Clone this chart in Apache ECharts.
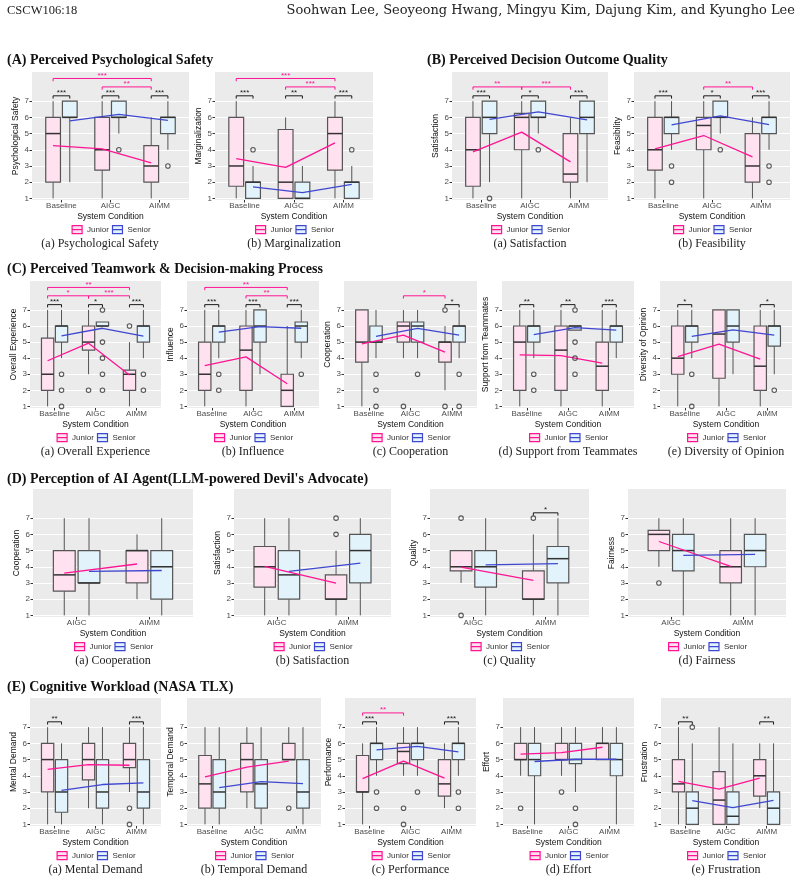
<!DOCTYPE html>
<html>
<head>
<meta charset="utf-8">
<script src="https://cdn.jsdelivr.net/npm/echarts@6/dist/echarts.min.js"></script>
<style>
  html, body { margin: 0; padding: 0; background: #fff; }
  #chart { width: 801px; height: 883px; }
</style>
</head>
<body>
<div id="chart"></div>
<script>
const conditions3 = ['Baseline', 'AIGC', 'AIMM'];
const conditions2 = ['AIGC', 'AIMM'];
const groups = ['Junior', 'Senior'];

// box rows per condition: [lower whisker, Q1, median, Q3, upper whisker]
// means: [junior means, senior means]
// outliers: [condition, group (0 junior / 1 senior), value]
// sig: [condition a, condition b, level, label]  (a == b -> junior vs senior)

// (A)(a) Psychological Safety
const psySafetyJunior = [[1, 2, 5, 6, 7], [1, 2.75, 4, 6, 7], [1, 2, 3, 4.25, 6]];
const psySafetySenior = [[2, 6, 6, 7, 7], [5, 6, 6, 7, 7], [4, 5, 6, 6, 7]];
const psySafetyMeans = [[4.25, 4.06, 3.19], [5.78, 6.18, 5.81]];
const psySafetyOutliers = [[1, 1, 4], [2, 1, 3]];
const psySafetySig = [[0, 0, 0, '***'], [1, 1, 0, '***'], [2, 2, 0, '***'], [1, 2, 1, '**'], [0, 2, 2, '***']];

// (A)(b) Marginalization
const marginJunior = [[1, 1.75, 3, 6, 7], [1, 1, 2, 5.25, 6], [1, 2.75, 5, 6, 7]];
const marginSenior = [[1, 1, 2, 2, 3], [1, 1, 1, 2, 3], [1, 1, 2, 2, 3]];
const marginMeans = [[3.46, 2.91, 4.43], [1.71, 1.36, 1.86]];
const marginOutliers = [[0, 1, 4], [2, 1, 4]];
const marginSig = [[0, 0, 0, '***'], [1, 1, 0, '**'], [2, 2, 0, '***'], [1, 2, 1, '***'], [0, 2, 2, '***']];

// (B)(a) Satisfaction
const satisJunior = [[1, 1.75, 4, 6, 7], [1, 4, 6, 6.25, 7], [1, 2, 2.5, 5, 6]];
const satisSenior = [[2, 5, 6, 7, 7], [5, 6, 6, 7, 7], [2, 5, 6, 7, 7]];
const satisMeans = [[3.87, 5.09, 3.25], [5.87, 6.34, 5.84]];
const satisOutliers = [[0, 1, 1], [1, 1, 4]];
const satisSig = [[0, 0, 0, '***'], [1, 1, 0, '*'], [2, 2, 0, '***'], [0, 1, 1, '**'], [1, 2, 1, '***']];

// (B)(b) Feasibility
const feasJunior = [[1, 2.75, 4, 6, 7], [1, 4, 5.5, 6, 7], [1, 2, 3, 5, 6]];
const feasSenior = [[4, 5, 6, 6, 7], [5, 6, 6, 7, 7], [4, 5, 6, 6, 7]];
const feasMeans = [[4.06, 4.88, 3.56], [5.54, 6.09, 5.55]];
const feasOutliers = [[0, 1, 3], [0, 1, 2], [1, 1, 4], [2, 1, 3], [2, 1, 2]];
const feasSig = [[0, 0, 0, '***'], [1, 1, 0, '*'], [2, 2, 0, '***'], [1, 2, 1, '**']];

// (C)(a) Overall Experience
const overallJunior = [[1, 2, 3, 5.25, 7], [3, 4.5, 5, 6, 7], [1, 2, 3, 3.25, 5]];
const overallSenior = [[4, 5, 6, 6, 7], [6, 6, 6, 6.25, 6.25], [4, 5, 6, 6, 7]];
const overallMeans = [[3.84, 4.93, 2.95], [5.39, 5.86, 5.37]];
const overallOutliers = [[0, 1, 3], [0, 1, 2], [0, 1, 1], [1, 0, 2], [1, 1, 7], [1, 1, 5], [1, 1, 4], [1, 1, 3], [1, 1, 2], [2, 0, 6], [2, 1, 3], [2, 1, 2]];
const overallSig = [[0, 0, 0, '***'], [1, 1, 0, '*'], [2, 2, 0, '***'], [0, 1, 1, '*'], [1, 2, 1, '***'], [0, 2, 2, '**']];

// (C)(b) Influence
const influenceJunior = [[1, 2, 3, 5, 7], [1, 2, 4.5, 6, 7], [1, 1, 2, 3, 6]];
const influenceSenior = [[4, 5, 6, 6, 7], [3, 5, 6, 7, 7], [4, 5, 6, 6.25, 7]];
const influenceMeans = [[3.53, 4.08, 2.41], [5.62, 5.96, 5.86]];
const influenceOutliers = [[0, 1, 3], [0, 1, 2], [2, 1, 3]];
const influenceSig = [[0, 0, 0, '***'], [1, 1, 0, '***'], [2, 2, 0, '***'], [1, 2, 1, '**'], [0, 2, 2, '**']];

// (C)(c) Cooperation
const coopJunior = [[1, 3.75, 5, 7, 7], [4, 5, 6, 6.25, 7], [2, 3.75, 5, 5, 6]];
const coopSenior = [[4, 5, 5, 6, 7], [4, 5, 6, 6.25, 7], [4, 5, 6, 6, 7]];
const coopMeans = [[4.89, 5.43, 4.38], [5.35, 5.85, 5.43]];
const coopOutliers = [[0, 1, 3], [0, 1, 2], [0, 1, 1], [1, 0, 1], [1, 1, 3], [2, 0, 7], [2, 0, 1], [2, 1, 3], [2, 1, 1]];
const coopSig = [[2, 2, 0, '*'], [1, 2, 1, '*']];

// (C)(d) Support from Teammates
const supportJunior = [[1, 2, 5, 6, 7], [1, 2, 4.5, 6, 7], [1, 2, 3.5, 5, 7]];
const supportSenior = [[4, 5, 6, 6, 7], [5.75, 5.75, 6, 6, 6], [4, 5, 6, 6, 7]];
const supportMeans = [[4.21, 4.16, 3.69], [5.47, 5.9, 5.74]];
const supportOutliers = [[0, 1, 3], [0, 1, 2], [1, 1, 7], [1, 1, 5], [1, 1, 4], [1, 1, 3]];
const supportSig = [[0, 0, 0, '**'], [1, 1, 0, '**'], [2, 2, 0, '***']];

// (C)(e) Diversity of Opinion
const diversityJunior = [[1, 3, 4, 6, 7], [1, 2.75, 5.5, 7, 7], [1, 2, 3.5, 6, 7]];
const diversitySenior = [[4, 5, 6, 6, 7], [3, 5, 6, 7, 7], [3, 4.75, 6, 6, 7]];
const diversityMeans = [[4.1, 4.87, 3.94], [5.36, 5.76, 5.43]];
const diversityOutliers = [[0, 1, 3], [0, 1, 1], [2, 1, 2]];
const diversitySig = [[0, 0, 0, '*'], [2, 2, 0, '*']];

// (D)(a) Cooperation with the agent
const agentCoopJunior = [[1, 2.5, 3.5, 5, 7], [2, 3, 5, 5, 6]];
const agentCoopSenior = [[1, 3, 3, 5, 7], [1, 2, 4, 5, 7]];
const agentCoopMeans = [[3.61, 4.17], [3.71, 3.77]];
const agentCoopOutliers = [];
const agentCoopSig = [];

// (D)(b) Satisfaction with the agent
const agentSatisJunior = [[1, 2.75, 4, 5.25, 7], [1, 2, 2, 3.5, 5]];
const agentSatisSenior = [[1, 2, 3.5, 5, 7], [1, 3, 5, 6, 7]];
const agentSatisMeans = [[4.02, 2.99], [3.71, 4.23]];
const agentSatisOutliers = [[1, 0, 7], [1, 0, 6]];
const agentSatisSig = [];

// (D)(c) Quality
const qualityJunior = [[3, 3.75, 4, 5, 5], [1, 2, 2, 3.75, 6]];
const qualitySenior = [[1, 2.75, 4, 5, 7], [1, 3, 4.5, 5.25, 7]];
const qualityMeans = [[3.98, 3.16], [4.12, 4.19]];
const qualityOutliers = [[0, 0, 7], [0, 0, 1], [1, 0, 7]];
const qualitySig = [[1, 1, 0, '*']];

// (D)(d) Fairness
const fairJunior = [[4, 5, 6, 6.25, 7], [1, 3, 4, 5, 7]];
const fairSenior = [[1, 3.75, 5, 6, 7], [1, 4, 5, 6, 7]];
const fairMeans = [[5.56, 4.02], [4.7, 4.76]];
const fairOutliers = [[0, 0, 3]];
const fairSig = [];

// (E)(a) Mental Demand
const mentalJunior = [[1, 3, 5, 6, 7], [2, 3.75, 5, 6, 7], [3, 4.5, 5, 6, 7]];
const mentalSenior = [[1, 1.75, 3, 5, 6], [1, 2, 3, 5, 7], [1, 2, 3, 5, 7]];
const mentalMeans = [[4.4, 4.69, 4.65], [3.1, 3.46, 3.56]];
const mentalOutliers = [[2, 0, 2], [2, 0, 1]];
const mentalSig = [[0, 0, 0, '**'], [2, 2, 0, '***']];

// (E)(b) Temporal Demand
const temporalJunior = [[1, 2, 3.5, 5.25, 7], [2, 3, 5, 6, 7], [5, 5, 5, 6, 7]];
const temporalSenior = [[1, 2, 3, 5, 7], [1, 2, 3.5, 5, 7], [1, 2, 3, 5, 7]];
const temporalMeans = [[3.93, 4.54, 4.9], [3.27, 3.64, 3.52]];
const temporalOutliers = [[2, 0, 2]];
const temporalSig = [];

// (E)(c) Performance
const perfJunior = [[1, 3, 3, 5.25, 6], [4, 4.75, 5.5, 6, 7], [2, 2.75, 3.5, 5, 6]];
const perfSenior = [[4, 5, 6, 6, 7], [4, 5, 6, 6, 7], [4, 5, 6, 6, 7]];
const perfMeans = [[3.83, 4.9, 3.85], [5.6, 5.81, 5.47]];
const perfOutliers = [[0, 1, 3], [0, 1, 2], [1, 0, 2], [1, 0, 1], [1, 1, 3], [2, 1, 3], [2, 1, 2]];
const perfSig = [[0, 0, 0, '***'], [2, 2, 0, '***'], [0, 1, 1, '**']];

// (E)(d) Effort
const effortJunior = [[4, 5, 5, 6, 7], [4, 5, 5, 6, 7], [5, 5, 6, 6, 7]];
const effortSenior = [[1, 4, 5, 6, 7], [3, 4.75, 5, 6, 7], [1, 4, 5, 6, 7]];
const effortMeans = [[5.33, 5.43, 5.76], [4.88, 5.02, 5.02]];
const effortOutliers = [[0, 0, 2], [1, 0, 3], [1, 1, 2], [1, 1, 1]];
const effortSig = [];

// (E)(e) Frustration
const frustJunior = [[1, 3, 3.5, 5, 7], [1, 1, 2.5, 4.25, 7], [2, 2.75, 4, 5, 6]];
const frustSenior = [[1, 1, 2, 3, 6], [1, 1, 1.5, 3, 6], [1, 1, 2, 3, 6]];
const frustMeans = [[3.66, 3.17, 3.85], [2.47, 2.03, 2.48]];
const frustOutliers = [[0, 1, 7]];
const frustSig = [[0, 0, 0, '**'], [2, 2, 0, '**']];

const sigLevels = [7.33, 7.88, 8.4];
const yTicks = [1, 2, 3, 4, 5, 6, 7];

// layout
const panels = [
  { cats: conditions3, yName: 'Psychological Safety', caption: '(a) Psychological Safety', junior: psySafetyJunior, senior: psySafetySenior, means: psySafetyMeans, outliers: psySafetyOutliers, sig: psySafetySig, left: 32, top: 72, width: 157, height: 128, captionX: 100 },
  { cats: conditions3, yName: 'Marginalization', caption: '(b) Marginalization', junior: marginJunior, senior: marginSenior, means: marginMeans, outliers: marginOutliers, sig: marginSig, left: 215, top: 72, width: 158, height: 128 },
  { cats: conditions3, yName: 'Satisfaction', caption: '(a) Satisfaction', junior: satisJunior, senior: satisSenior, means: satisMeans, outliers: satisOutliers, sig: satisSig, left: 452, top: 72, width: 156, height: 128 },
  { cats: conditions3, yName: 'Feasibility', caption: '(b) Feasibility', junior: feasJunior, senior: feasSenior, means: feasMeans, outliers: feasOutliers, sig: feasSig, left: 634, top: 72, width: 156, height: 128 },

  { cats: conditions3, yName: 'Overall Experience', caption: '(a) Overall Experience', junior: overallJunior, senior: overallSenior, means: overallMeans, outliers: overallOutliers, sig: overallSig, left: 30, top: 281, width: 131, height: 127 },
  { cats: conditions3, yName: 'Influence', caption: '(b) Influence', junior: influenceJunior, senior: influenceSenior, means: influenceMeans, outliers: influenceOutliers, sig: influenceSig, left: 187, top: 281, width: 132, height: 127 },
  { cats: conditions3, yName: 'Cooperation', caption: '(c) Cooperation', junior: coopJunior, senior: coopSenior, means: coopMeans, outliers: coopOutliers, sig: coopSig, left: 344, top: 281, width: 133, height: 127 },
  { cats: conditions3, yName: 'Support from Teammates', caption: '(d) Support from Teammates', junior: supportJunior, senior: supportSenior, means: supportMeans, outliers: supportOutliers, sig: supportSig, left: 502, top: 281, width: 132, height: 127 },
  { cats: conditions3, yName: 'Diversity of Opinion', caption: '(e) Diversity of Opinion', junior: diversityJunior, senior: diversitySenior, means: diversityMeans, outliers: diversityOutliers, sig: diversitySig, left: 660, top: 281, width: 132, height: 127 },

  { cats: conditions2, yName: 'Cooperation', caption: '(a) Cooperation', junior: agentCoopJunior, senior: agentCoopSenior, means: agentCoopMeans, outliers: agentCoopOutliers, sig: agentCoopSig, left: 33, top: 489, width: 160, height: 128 },
  { cats: conditions2, yName: 'Satisfaction', caption: '(b) Satisfaction', junior: agentSatisJunior, senior: agentSatisSenior, means: agentSatisMeans, outliers: agentSatisOutliers, sig: agentSatisSig, left: 234, top: 489, width: 157, height: 128 },
  { cats: conditions2, yName: 'Quality', caption: '(c) Quality', junior: qualityJunior, senior: qualitySenior, means: qualityMeans, outliers: qualityOutliers, sig: qualitySig, left: 430, top: 489, width: 159, height: 128 },
  { cats: conditions2, yName: 'Fairness', caption: '(d) Fairness', junior: fairJunior, senior: fairSenior, means: fairMeans, outliers: fairOutliers, sig: fairSig, left: 628, top: 489, width: 158, height: 128 },

  { cats: conditions3, yName: 'Mental Demand', caption: '(a) Mental Demand', junior: mentalJunior, senior: mentalSenior, means: mentalMeans, outliers: mentalOutliers, sig: mentalSig, left: 30, top: 698, width: 131, height: 128 },
  { cats: conditions3, yName: 'Temporal Demand', caption: '(b) Temporal Demand', junior: temporalJunior, senior: temporalSenior, means: temporalMeans, outliers: temporalOutliers, sig: temporalSig, left: 187, top: 698, width: 134, height: 128 },
  { cats: conditions3, yName: 'Performance', caption: '(c) Performance', junior: perfJunior, senior: perfSenior, means: perfMeans, outliers: perfOutliers, sig: perfSig, left: 345, top: 698, width: 131, height: 128 },
  { cats: conditions3, yName: 'Effort', caption: '(d) Effort', junior: effortJunior, senior: effortSenior, means: effortMeans, outliers: effortOutliers, sig: effortSig, left: 503, top: 698, width: 131, height: 128 },
  { cats: conditions3, yName: 'Frustration', caption: '(e) Frustration', junior: frustJunior, senior: frustSenior, means: frustMeans, outliers: frustOutliers, sig: frustSig, left: 661, top: 698, width: 130, height: 128 }
];

const sections = [
  ['(A) Perceived Psychological Safety', 7, 53],
  ['(B) Perceived Decision Outcome Quality', 427, 53],
  ['(C) Perceived Teamwork & Decision-making Process', 7, 262],
  ["(D) Perception of AI Agent(LLM-powered Devil's Advocate)", 7, 472],
  ['(E) Cognitive Workload (NASA TLX)', 7, 680]
];

const boxFill = ['#FFE1F0', '#E2F3FB'];
const meanColor = ['#FF1493', '#3F47D0'];
const dodge = [-0.17, 0.17];
const boxWidth = 0.3;

function boxRenderer(fill) {
  return function (params, api) {
    const x = api.value(0);
    const p = [1, 2, 3, 4, 5].map(d => api.coord([x, api.value(d)]));
    const half = api.size([boxWidth / 2, 0])[0];
    const cx = p[0][0];
    return {
      type: 'group',
      children: [
        { type: 'line', shape: { x1: cx, y1: p[0][1], x2: cx, y2: p[1][1] }, style: { stroke: '#555', lineWidth: 1 } },
        { type: 'line', shape: { x1: cx, y1: p[3][1], x2: cx, y2: p[4][1] }, style: { stroke: '#555', lineWidth: 1 } },
        { type: 'rect', shape: { x: cx - half, y: p[3][1], width: half * 2, height: p[1][1] - p[3][1] }, style: { fill: fill, stroke: '#555', lineWidth: 1.2 } },
        { type: 'line', shape: { x1: cx - half, y1: p[2][1], x2: cx + half, y2: p[2][1] }, style: { stroke: '#333', lineWidth: 1.5 } }
      ]
    };
  };
}

function sigRenderer(rows) {
  return function (params, api) {
    const a = api.coord([api.value(0), api.value(2)]);
    const b = api.coord([api.value(1), api.value(2)]);
    const tip = api.size([0, 0.17])[1];
    const row = rows[params.dataIndex];
    const color = row[0] === row[1] ? '#1a1a1a' : '#FF1493';
    return {
      type: 'group',
      children: [
        { type: 'polyline', shape: { points: [[a[0], a[1] + tip], [a[0], a[1]], [b[0], b[1]], [b[0], b[1] + tip]] }, style: { stroke: color, fill: 'none', lineWidth: 1 } },
        { type: 'text', style: { x: (a[0] + b[0]) / 2, y: a[1] + 1, text: row[3], fill: color, fontSize: 8, align: 'center', verticalAlign: 'bottom' } }
      ]
    };
  };
}

const option = {
  animation: false,
  textStyle: { fontFamily: 'Liberation Sans' },
  title: [
    { text: 'CSCW106:18', left: 7, top: 4, padding: 0, textStyle: { fontFamily: 'Liberation Serif', fontSize: 12.5, fontWeight: 'normal', color: '#222' } },
    { text: 'Soohwan Lee, Seoyeong Hwang, Mingyu Kim, Dajung Kim, and Kyungho Lee', right: 6, top: 4, padding: 0, textStyle: { fontFamily: 'DejaVu Serif', fontSize: 13, fontWeight: 'normal', color: '#222' } }
  ],
  grid: [], xAxis: [], yAxis: [], legend: [], series: []
};

sections.forEach(s => {
  option.title.push({ text: s[0], left: s[1], top: s[2], padding: 0, textStyle: { fontFamily: 'Liberation Serif', fontSize: 14, fontWeight: 'bold', color: '#111' } });
});

panels.forEach((p, i) => {
  const n = p.cats.length;
  const ticks = p.cats.map((c, k) => k + 1);
  const bottom = p.top + p.height;
  const cx = p.left + p.width / 2;

  option.grid.push({ left: p.left, top: p.top, width: p.width, height: p.height, show: true, backgroundColor: '#EBEBEB', borderWidth: 0 });
  option.xAxis.push({
    type: 'value', gridIndex: i, min: 0.4, max: n + 0.6,
    axisLine: { show: false },
    axisTick: { show: true, customValues: ticks, length: 2.5, lineStyle: { color: '#333' } },
    axisLabel: { customValues: ticks, formatter: v => p.cats[Math.round(v) - 1], fontSize: 8, color: '#4d4d4d', margin: 2 },
    splitLine: { show: false },
    name: 'System Condition', nameLocation: 'middle', nameGap: 12,
    nameTextStyle: { fontSize: 8.5, color: '#111' }
  });
  option.yAxis.push({
    type: 'value', gridIndex: i, min: 0.9, max: 8.8,
    axisLine: { show: false },
    axisTick: { show: true, customValues: yTicks, length: 2.5, lineStyle: { color: '#333' } },
    axisLabel: { customValues: yTicks, fontSize: 8, color: '#4d4d4d', margin: 3 },
    splitLine: { show: true, lineStyle: { color: '#ffffff', width: 1.1 } },
    name: p.yName, nameLocation: 'middle', nameGap: 12,
    nameTextStyle: { fontSize: 8.5, color: '#111' }
  });

  option.title.push({ text: p.caption, left: p.captionX || cx, top: bottom + 38, padding: 0, textAlign: 'center', textStyle: { fontFamily: 'Liberation Serif', fontSize: 12, fontWeight: 'normal', color: '#222' } });

  option.legend.push({
    left: cx - 39, top: bottom + 25, padding: 0, itemGap: 3, itemWidth: 10, itemHeight: 8,
    selectedMode: false,
    textStyle: { fontSize: 8, color: '#333' },
    data: groups.map((g, k) => ({ name: g, icon: 'path://M0,0H10V8H0Z M0,4H10', itemStyle: { color: boxFill[k], borderColor: meanColor[k], borderWidth: 1.2 } }))
  });

  [p.junior, p.senior].forEach((rows, k) => {
    option.series.push({
      type: 'custom', name: groups[k], xAxisIndex: i, yAxisIndex: i, z: 2,
      itemStyle: { color: boxFill[k] },
      renderItem: boxRenderer(boxFill[k]),
      data: rows.map((r, c) => [c + 1 + dodge[k]].concat(r))
    });
  });

  p.means.forEach((m, k) => {
    option.series.push({
      type: 'line', name: groups[k], xAxisIndex: i, yAxisIndex: i, z: 4,
      symbol: 'none', silent: true,
      lineStyle: { color: meanColor[k], width: 1.3 },
      itemStyle: { color: meanColor[k] },
      data: m.map((v, c) => [c + 1 + dodge[k], v])
    });
  });

  option.series.push({
    type: 'scatter', xAxisIndex: i, yAxisIndex: i, z: 5, silent: true,
    symbol: 'circle', symbolSize: 4.5,
    itemStyle: { color: 'rgba(0,0,0,0)', borderColor: '#333', borderWidth: 1.1 },
    data: p.outliers.map(o => [o[0] + 1 + dodge[o[1]], o[2]])
  });

  if (p.sig.length) {
    option.series.push({
      type: 'custom', xAxisIndex: i, yAxisIndex: i, z: 6, silent: true,
      renderItem: sigRenderer(p.sig),
      data: p.sig.map(s => [s[0] + 1 + dodge[0], s[1] + 1 + (s[0] === s[1] ? dodge[1] : dodge[0]), sigLevels[s[2]]])
    });
  }
});

const chart = echarts.init(document.getElementById('chart'), null, { renderer: 'canvas' });
chart.setOption(option);
</script>
</body>
</html>
